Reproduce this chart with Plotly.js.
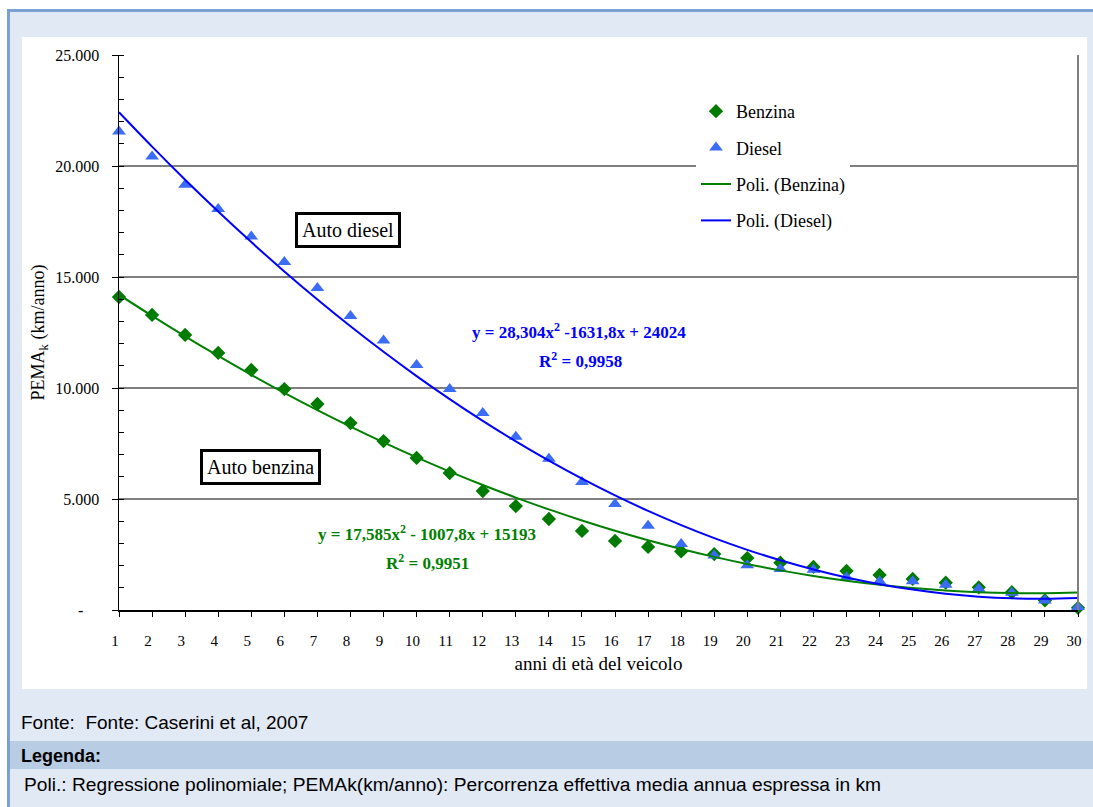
<!DOCTYPE html>
<html>
<head>
<meta charset="utf-8">
<script src="https://cdn.plot.ly/plotly-3.0.1.min.js"></script>
<style>html,body{margin:0;padding:0;background:#fff;}#chart{width:1093px;height:807px;}</style>
</head>
<body>
<div id="chart"></div>
<script>
// ---- data ----
const years = [1,2,3,4,5,6,7,8,9,10,11,12,13,14,15,16,17,18,19,20,21,22,23,24,25,26,27,28,29,30];
const benzina = [14100,13290,12390,11580,10810,9950,9280,8420,7610,6850,6170,5360,4680,4100,3560,3110,2840,2640,2520,2340,2130,1940,1760,1580,1400,1230,1020,800,430,100];
const diesel = [21550,20430,19160,18060,16820,15680,14500,13240,12140,11040,9950,8870,7800,6810,5770,4780,3790,2970,2450,2020,1850,1810,1470,1300,1300,1140,960,780,430,130];
// polynomial trend coefficients shown on the chart (a*x^2 + b*x + c)
const fitBenzina = [17.585, -1007.8, 15193];
const fitDiesel = [28.304, -1631.8, 24024];
const yTickVals = [0,5000,10000,15000,20000,25000];
const yTickText = ['-\u00a0\u00a0\u00a0\u00a0','5.000','10.000','15.000','20.000','25.000'];
const seriesNames = ['Benzina','Diesel','Poli. (Benzina)','Poli. (Diesel)'];

function poly(c, xs){ return xs.map(x => c[0]*x*x + c[1]*x + c[2]); }

// ---- geometry helpers (pixel -> paper) ----
const L = 119, R = 1078, T = 55, B = 610;
const px = x => (x - L) / (R - L);
const py = y => (B - y) / (B - T);

const serif = 'Liberation Serif, Times New Roman, serif';
const sans = 'Liberation Sans, Arial, sans-serif';

const traces = [
  {x: years, y: benzina, name: seriesNames[0], type: 'scatter', mode: 'markers', legendgroup: 'a',
   marker: {symbol: 'diamond', color: '#007A00', size: 11}, cliponaxis: false},
  {x: years, y: diesel, name: seriesNames[1], type: 'scatter', mode: 'markers', legendgroup: 'b',
   marker: {symbol: 'triangle-up', color: '#3A6CF6', size: 12}, cliponaxis: false},
  {x: years, y: poly(fitBenzina, years), name: seriesNames[2], type: 'scatter', mode: 'lines', legendgroup: 'c',
   line: {color: '#008000', width: 2, shape: 'spline'}, cliponaxis: false},
  {x: years, y: poly(fitDiesel, years), name: seriesNames[3], type: 'scatter', mode: 'lines', legendgroup: 'd',
   line: {color: '#0000FF', width: 2, shape: 'spline'}, cliponaxis: false}
];

const ann = (text, x, y, extra) => Object.assign({text, x: px(x), y: py(y), xref: 'paper', yref: 'paper',
  xanchor: 'center', yanchor: 'middle', showarrow: false}, extra || {});

const layout = {
  width: 1093, height: 807,
  margin: {l: L, r: 1093 - R, t: T, b: 807 - B, pad: 0},
  paper_bgcolor: '#ffffff', plot_bgcolor: '#ffffff',
  font: {family: serif, color: '#000', size: 14},
  showlegend: true,
  legend: {x: px(696), y: py(93), xanchor: 'left', yanchor: 'top', bgcolor: '#ffffff', borderwidth: 0,
           font: {family: serif, size: 18, color: '#000'}, traceorder: 'grouped', tracegroupgap: 10, itemwidth: 30},
  xaxis: {range: [1, 30], tickvals: years, ticktext: years.map(String), showgrid: false, zeroline: false,
          showline: true, linecolor: '#000', linewidth: 1.5, ticks: 'outside', ticklen: 5, tickcolor: '#000',
          tickfont: {family: serif, size: 15}, ticklabelstandoff: 11, ticklabelshift: -4,
          title: {text: 'anni di età del veicolo', font: {family: serif, size: 19}, standoff: 9}},
  yaxis: {range: [0, 25000], tickvals: yTickVals, ticktext: yTickText, showgrid: true, gridcolor: '#7f7f7f', gridwidth: 1.5,
          zeroline: false, showline: true, linecolor: '#000', linewidth: 1.5, ticks: 'outside', ticklen: 6, tickcolor: '#000',
          tickfont: {family: serif, size: 16}, ticklabelstandoff: 9,
          minor: {dtick: 1000, ticks: 'inside', ticklen: 5, tickcolor: '#000', showgrid: false},
          title: {text: 'PEMA<sub>k</sub> (km/anno)', font: {family: serif, size: 18}, standoff: 6}},
  shapes: [
    {type: 'rect', xref: 'paper', yref: 'paper', x0: px(8.5), y0: py(10.5), x1: px(1120), y1: py(840),
     fillcolor: '#E1E9F5', line: {color: '#7BA0D4', width: 3}, layer: 'below'},
    {type: 'rect', xref: 'paper', yref: 'paper', x0: px(22), y0: py(37), x1: px(1087), y1: py(689),
     fillcolor: '#ffffff', line: {width: 0}, layer: 'below'},
    {type: 'rect', xref: 'paper', yref: 'paper', x0: px(10), y0: py(741), x1: px(1120), y1: py(769),
     fillcolor: '#B8CCE4', line: {width: 0}, layer: 'below'},
    {type: 'line', xref: 'paper', yref: 'paper', x0: 1, x1: 1, y0: 0, y1: 1, line: {color: '#7f7f7f', width: 2}}
  ],
  annotations: [
    ann('Auto diesel', 348, 230, {font: {family: serif, size: 20}, bgcolor: '#fff', bordercolor: '#000', borderwidth: 3, borderpad: 4}),
    ann('Auto benzina', 260, 467, {font: {family: serif, size: 20}, bgcolor: '#fff', bordercolor: '#000', borderwidth: 3, borderpad: 4}),
    ann('<b>y = 28,304x<sup>2</sup> -1631,8x + 24024</b>', 579, 331, {font: {family: serif, size: 17, color: '#0000FF'}}),
    ann('<b>R<sup>2</sup> = 0,9958</b>', 580, 360, {font: {family: serif, size: 17, color: '#0000FF'}}),
    ann('<b>y = 17,585x<sup>2</sup> - 1007,8x + 15193</b>', 427, 533, {font: {family: serif, size: 17, color: '#008000'}}),
    ann('<b>R<sup>2</sup> = 0,9951</b>', 427, 562, {font: {family: serif, size: 17, color: '#008000'}}),
    ann('Fonte:  Fonte: Caserini et al, 2007', 19, 722, {xanchor: 'left', font: {family: sans, size: 19}}),
    ann('<b>Legenda:</b>', 19, 756, {xanchor: 'left', font: {family: sans, size: 18}}),
    ann('Poli.: Regressione polinomiale; PEMAk(km/anno): Percorrenza effettiva media annua espressa in km', 22, 785, {xanchor: 'left', font: {family: sans, size: 19.2}})
  ]
};

Plotly.newPlot('chart', traces, layout, {displayModeBar: false, staticPlot: true});
</script>
</body>
</html>
